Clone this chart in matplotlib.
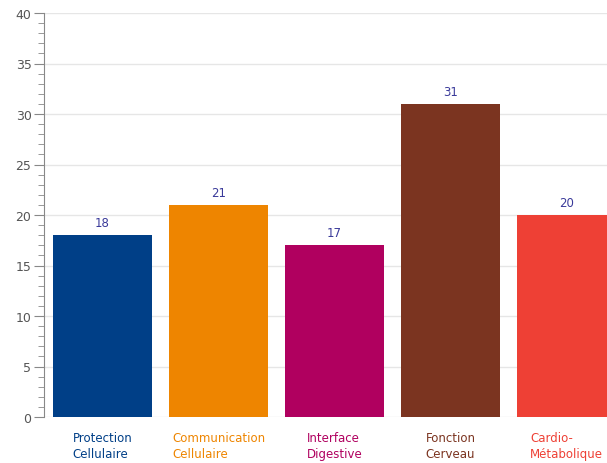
import matplotlib.pyplot as plt
from matplotlib.ticker import MultipleLocator

categories = ["Protection\nCellulaire", "Communication\nCellulaire", "Interface\nDigestive",
              "Fonction\nCerveau", "Cardio-\nMétabolique"]
values = [18, 21, 17, 31, 20]
colors = ["#003f87", "#ee8500", "#b0005f", "#7b3420", "#ee4035"]

W, H = 607, 464
fig = plt.figure(figsize=(W / 100, H / 100), dpi=100)
ax = fig.add_axes([44 / W, 46 / H, (W - 44) / W, 404 / H])

x = list(range(len(categories)))
bars = ax.bar(x, values, width=0.85, color=colors, zorder=3)

for xi, v in zip(x, values):
    ax.text(xi, v + 0.6, str(v), ha="center", va="bottom", fontsize=8.5,
            color="#3a3a9a", zorder=4)

ax.set_xlim(-0.505, 4.35)
ax.set_ylim(0, 40)
ax.yaxis.set_major_locator(MultipleLocator(5))
ax.yaxis.set_minor_locator(MultipleLocator(1))
ax.grid(axis="y", color="#e6e6e6", linewidth=1, zorder=0)

for s in ["top", "right", "bottom"]:
    ax.spines[s].set_visible(False)
ax.spines["left"].set_color("#888888")
ax.tick_params(axis="y", which="major", length=7, color="#888888",
               labelsize=9, labelcolor="#555555", pad=2)
ax.tick_params(axis="y", which="minor", length=4, color="#888888")
ax.tick_params(axis="x", length=0, pad=10)

ax.set_xticks(x)
ax.set_xticklabels(categories, fontsize=8.5, multialignment="left", linespacing=1.35)
for lbl, c in zip(ax.get_xticklabels(), colors):
    lbl.set_color(c)

fig.savefig("out.png", dpi=100)
